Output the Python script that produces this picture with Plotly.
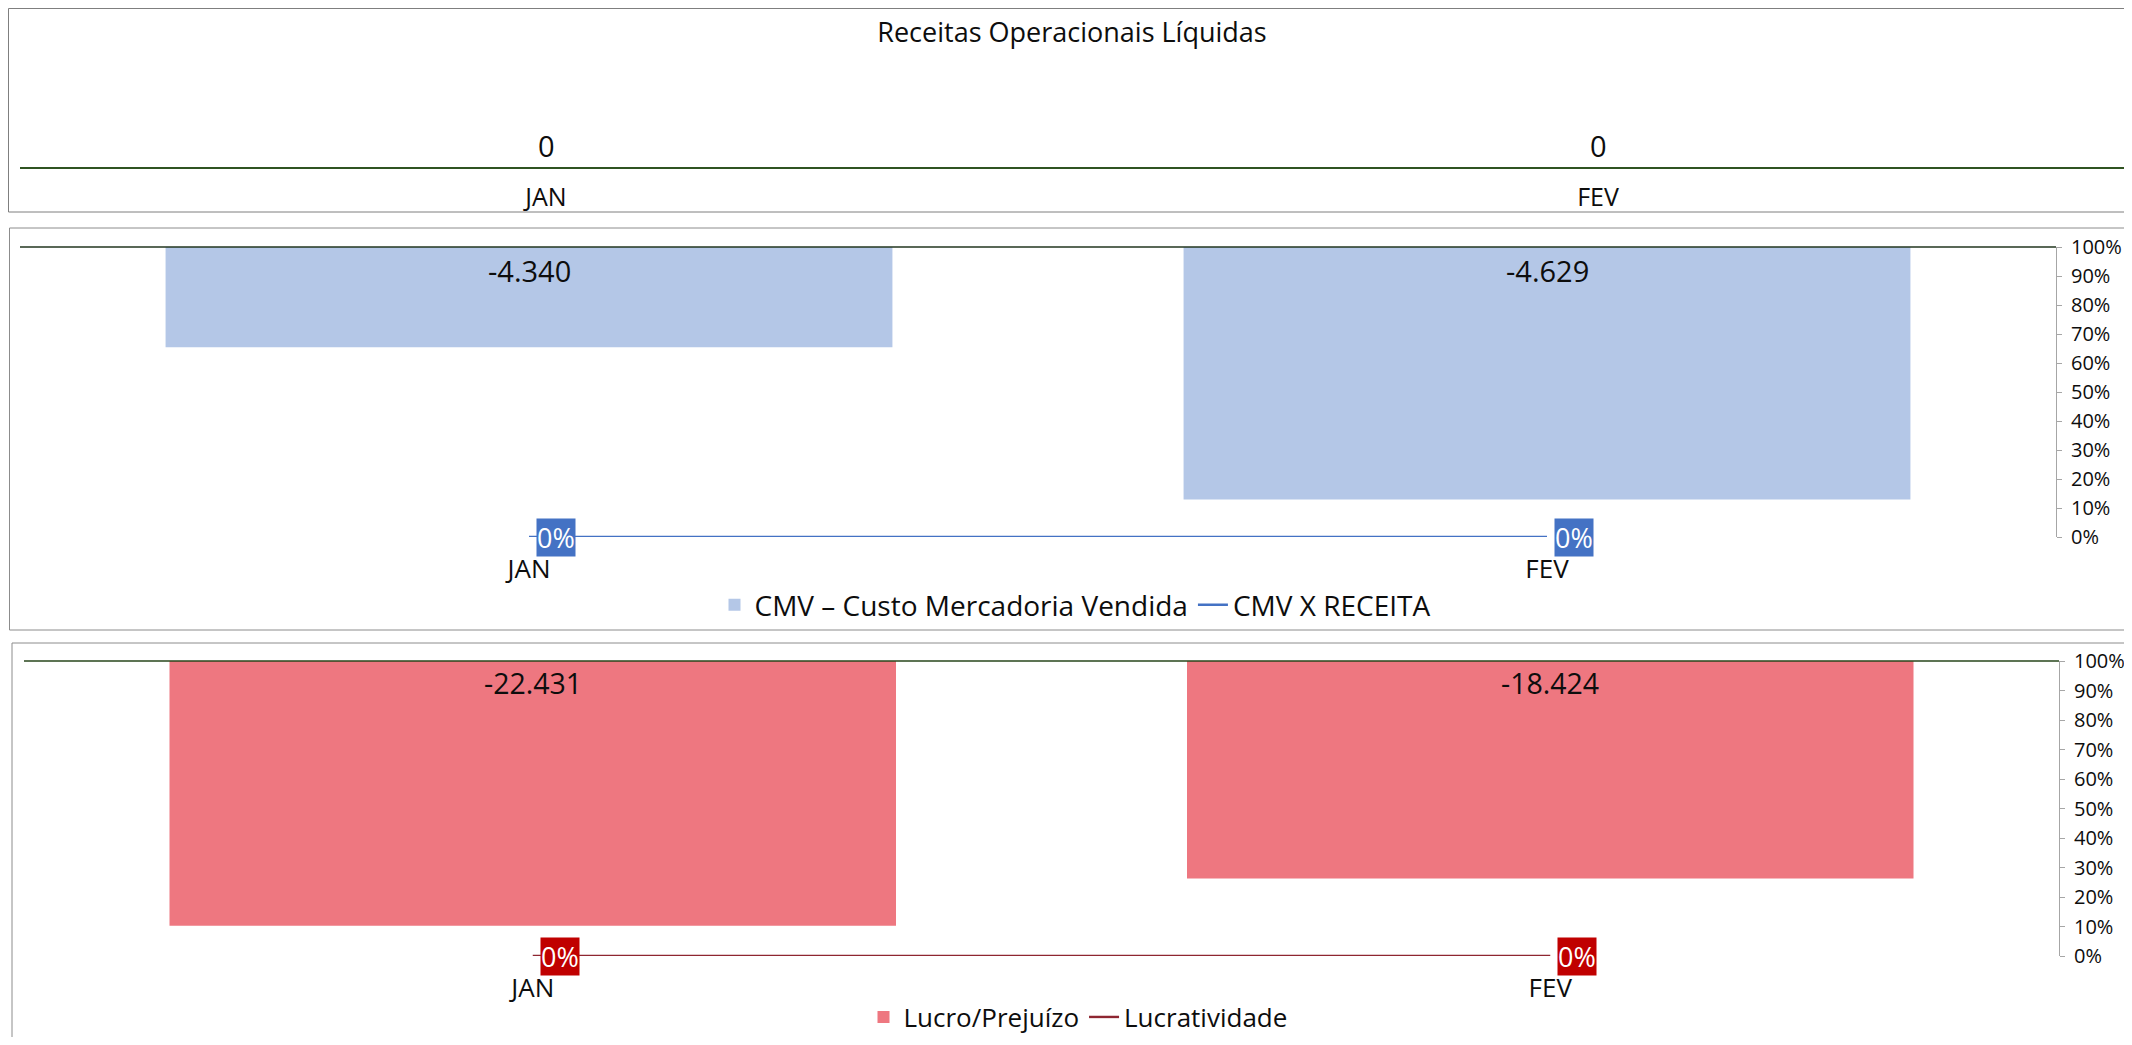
import plotly.graph_objects as go

# ---------------- data ----------------
months = ["JAN", "FEV"]
receitas = [0, 0]
cmv = [-4340, -4629]
cmv_x_receita = [0.0, 0.0]
lucro = [-22431, -18424]
lucratividade = [0.0, 0.0]
pct_tickvals = [0.0, 0.1, 0.2, 0.3, 0.4, 0.5, 0.6, 0.7, 0.8, 0.9, 1.0]

cmv_axis_range = [-4700, -4150]
lucro_axis_range = [-25000, 0]

# page has an 8px body margin: size the figure to fit the window exactly
OFF = 8
W, H = 2132 - 2 * OFF, 1045 - 2 * OFF
FONT = "Open Sans, Noto Sans, DejaVu Sans, sans-serif"
TXT = "#0D0D0D"


def br(v):
    return f"{v:,}".replace(",", ".")


def px(x):
    return (x - OFF) / W


def py(y):
    return 1 - (y - OFF) / H


fig = go.Figure()

# Panel 1 - Receitas
fig.add_trace(go.Bar(x=months, y=receitas, xaxis="x", yaxis="y",
                     marker_color="#4472C4", showlegend=False, hoverinfo="skip"))

# Panel 2 - CMV
fig.add_trace(go.Bar(x=months, y=cmv, xaxis="x2", yaxis="y2",
                     name="CMV – Custo Mercadoria Vendida",
                     marker_color="#B4C7E7", legend="legend"))
fig.add_trace(go.Scatter(x=months, y=cmv_x_receita, xaxis="x2", yaxis="y3",
                         mode="lines", name="CMV X RECEITA",
                         line=dict(color="#4472C4", width=2.5),
                         cliponaxis=False, legend="legend"))

# Panel 3 - Lucro
fig.add_trace(go.Bar(x=months, y=lucro, xaxis="x3", yaxis="y4",
                     name="Lucro/Prejuízo",
                     marker_color="#EE7780", legend="legend2"))
fig.add_trace(go.Scatter(x=months, y=lucratividade, xaxis="x3", yaxis="y5",
                         mode="lines", name="Lucratividade",
                         line=dict(color="#8E2631", width=2.5),
                         cliponaxis=False, legend="legend2"))

annotations = []
for m, v in zip(months, receitas):
    annotations.append(dict(x=m, xref="x", y=v, yref="y", text=br(v),
                            showarrow=False, yanchor="middle", yshift=21,
                            font=dict(size=29, color=TXT, family=FONT)))
for m, v in zip(months, cmv):
    annotations.append(dict(x=m, xref="x2", y=1, yref="y2 domain", text=br(v),
                            showarrow=False, yanchor="middle", yshift=-23,
                            font=dict(size=29, color=TXT, family=FONT)))
for m, v in zip(months, lucro):
    annotations.append(dict(x=m, xref="x3", y=1, yref="y4 domain", text=br(v),
                            showarrow=False, yanchor="middle", yshift=-22,
                            font=dict(size=28.5, color=TXT, family=FONT)))
for m, v in zip(months, cmv_x_receita):
    annotations.append(dict(x=m, xref="x2", y=v, yref="y3", text=f"{v:.0%}",
                            showarrow=False, xanchor="left", yanchor="middle", xshift=7,
                            bgcolor="#4472C4", borderpad=0,
                            font=dict(size=27, color="white", family=FONT)))
for m, v in zip(months, lucratividade):
    annotations.append(dict(x=m, xref="x3", y=v, yref="y5", text=f"{v:.0%}",
                            showarrow=False, xanchor="left", yanchor="middle", xshift=7,
                            bgcolor="#C00000", borderpad=0,
                            font=dict(size=27, color="white", family=FONT)))

shapes = [
    dict(type="rect", xref="paper", yref="paper", x0=px(8.5), x1=1.01, y0=py(212), y1=py(8.5),
         line=dict(color="#7F7F7F", width=1), layer="below"),
    dict(type="rect", xref="paper", yref="paper", x0=px(9.5), x1=1.01, y0=py(630), y1=py(228),
         line=dict(color="#8C8C8C", width=1), layer="below"),
    dict(type="rect", xref="paper", yref="paper", x0=px(12), x1=1.01, y0=-0.01, y1=py(643),
         line=dict(color="#8C8C8C", width=1), layer="below"),
    dict(type="line", xref="x2 domain", yref="y2 domain", x0=0, x1=1, y0=1, y1=1,
         line=dict(color="#22361F", width=1.5)),
    dict(type="line", xref="x3 domain", yref="y4 domain", x0=0, x1=1, y0=1, y1=1,
         line=dict(color="#27461B", width=1.5)),
]

cat_axis = dict(type="category", showgrid=False, zeroline=False, ticks="outside",
                tickcolor="rgba(0,0,0,0)", fixedrange=True, automargin=False)
pct_axis = dict(side="right", range=[0, 1], tickvals=pct_tickvals, tickformat=".0%",
                showline=True, linecolor="#A6A6A6", linewidth=1, ticks="outside",
                ticklen=5, tickcolor="#A6A6A6", showgrid=False, zeroline=False,
                tickfont=dict(size=20, color=TXT, family=FONT), ticklabelstandoff=5,
                fixedrange=True, automargin=False)

fig.update_layout(
    template="none",
    width=W, height=H,
    margin=dict(l=0, r=0, t=0, b=0, pad=0, autoexpand=False),
    paper_bgcolor="white", plot_bgcolor="white",
    font=dict(family=FONT, color=TXT),
    bargap=0.286,
    title=dict(text="Receitas Operacionais Líquidas", x=px(1072), y=py(33),
               xanchor="center", yanchor="middle", automargin=False,
               font=dict(size=27, color=TXT, family=FONT)),
    xaxis=dict(cat_axis, domain=[px(20), px(2124)], anchor="y",
               showline=True, linecolor="#2F5321", linewidth=1.5, ticklen=8,
               tickfont=dict(size=25, color=TXT, family=FONT)),
    yaxis=dict(domain=[py(166.5), py(60)], anchor="x", range=[0, 1], visible=False,
               fixedrange=True, automargin=False),
    xaxis2=dict(cat_axis, domain=[px(20), px(2056)], anchor="y2", showline=False,
                ticklen=9, tickfont=dict(size=26, color=TXT, family=FONT)),
    yaxis2=dict(domain=[py(537), py(247)], anchor="x2", range=cmv_axis_range,
                visible=False, fixedrange=True, automargin=False),
    yaxis3=dict(pct_axis, overlaying="y2", anchor="x2"),
    xaxis3=dict(cat_axis, domain=[px(24), px(2059)], anchor="y4", showline=False,
                ticklen=9, tickfont=dict(size=26, color=TXT, family=FONT)),
    yaxis4=dict(domain=[py(956), py(661)], anchor="x3", range=lucro_axis_range,
                visible=False, fixedrange=True, automargin=False),
    yaxis5=dict(pct_axis, overlaying="y4", anchor="x3"),
    legend=dict(orientation="h", x=px(1075), y=py(605), xanchor="center", yanchor="middle",
                font=dict(size=28, color=TXT, family=FONT), bgcolor="rgba(0,0,0,0)",
                itemwidth=30, traceorder="normal"),
    legend2=dict(orientation="h", x=px(1078), y=py(1017), xanchor="center", yanchor="middle",
                 font=dict(size=26, color=TXT, family=FONT), bgcolor="rgba(0,0,0,0)",
                 itemwidth=30, traceorder="normal"),
    annotations=annotations,
    shapes=shapes,
)

fig.write_html("out.html")
